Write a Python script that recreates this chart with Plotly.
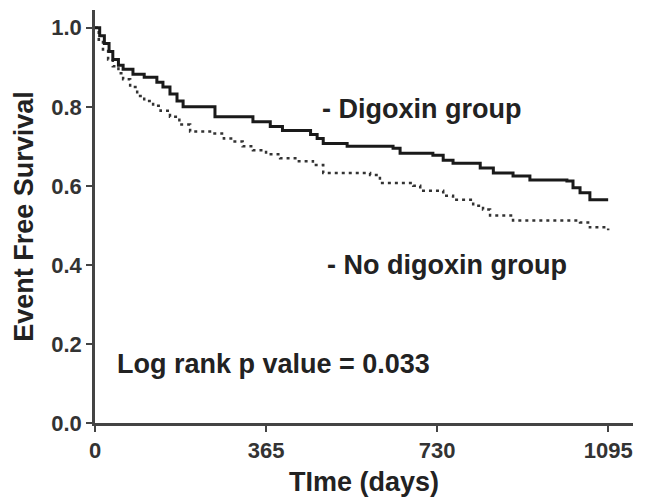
import plotly.graph_objects as go

# Digoxin group (solid step curve)
dig_days = [0, 10, 20, 30, 38, 50, 60, 81, 105, 132, 145, 160, 175, 188, 256, 337, 374, 400,
            460, 474, 487, 538, 636, 651, 721, 743, 764, 822, 850, 892, 928, 1007, 1020, 1035, 1056, 1095]
dig_surv = [1.0, 0.98, 0.96, 0.94, 0.92, 0.905, 0.895, 0.8825, 0.875, 0.8625, 0.85, 0.8325, 0.815, 0.80,
            0.775, 0.7625, 0.75, 0.74, 0.73, 0.72, 0.7075, 0.70, 0.695, 0.6825, 0.6775, 0.665, 0.6575,
            0.645, 0.6325, 0.625, 0.615, 0.6125, 0.595, 0.5825, 0.565, 0.565]

# No digoxin group (dotted step curve)
nodig_days = [0, 8, 17, 28, 38, 50, 60, 75, 90, 105, 124, 140, 160, 180, 203, 252, 275, 295, 315, 337,
              365, 395, 431, 465, 487, 587, 608, 679, 694, 743, 764, 807, 828, 843, 892, 1035, 1056, 1095]
nodig_surv = [1.0, 0.97, 0.945, 0.92, 0.9025, 0.885, 0.87, 0.85, 0.8275, 0.815, 0.8025, 0.79, 0.775,
              0.755, 0.7375, 0.7325, 0.72, 0.7125, 0.70, 0.69, 0.68, 0.67, 0.6625, 0.6525, 0.6325,
              0.6275, 0.6075, 0.60, 0.5875, 0.575, 0.565, 0.55, 0.54, 0.525, 0.5125, 0.5075, 0.495, 0.4875]

x_ticks = [0, 365, 730, 1095]
y_ticks = [0.0, 0.2, 0.4, 0.6, 0.8, 1.0]
y_tick_text = ["0.0", "0.2", "0.4", "0.6", "0.8", "1.0"]

FONT = "Liberation Sans, Arial, sans-serif"

fig = go.Figure()
fig.add_trace(go.Scatter(x=nodig_days, y=nodig_surv, mode="lines", line_shape="hv",
                         line=dict(color="#333333", width=2.5, dash="3px,4px"),
                         name="No digoxin group", showlegend=False))
fig.add_trace(go.Scatter(x=dig_days, y=dig_surv, mode="lines", line_shape="hv",
                         line=dict(color="#1a1a1a", width=3),
                         name="Digoxin group", showlegend=False))

ann_font = dict(family=FONT, size=27, color="#222222", weight="bold")
fig.add_annotation(x=480, y=0.795, text="- Digoxin group", showarrow=False,
                   xanchor="left", yanchor="middle", font=ann_font)
fig.add_annotation(x=491, y=0.40, text="- No digoxin group", showarrow=False,
                   xanchor="left", yanchor="middle", font=ann_font)
fig.add_annotation(x=43, y=0.15, text="Log rank p value = 0.033", showarrow=False,
                   xanchor="left", yanchor="middle", font=ann_font)

fig.update_layout(
    width=646, height=502,
    margin=dict(l=95, r=13, t=10, b=74),
    paper_bgcolor="white", plot_bgcolor="white",
    font=dict(family=FONT, color="#333333"),
)
fig.update_xaxes(range=[0, 1148], tickvals=x_ticks, ticktext=[str(v) for v in x_ticks],
                 showgrid=False, zeroline=False, showline=True, linecolor="#444444", linewidth=2.5,
                 ticks="outside", ticklen=6, tickwidth=2, tickcolor="#444444",
                 tickfont=dict(family=FONT, size=22, color="#333333", weight="bold"),
                 title=dict(text="TIme (days)", standoff=10,
                            font=dict(family=FONT, size=27, color="#222222", weight="bold")))
fig.update_yaxes(range=[0, 1.045], tickvals=y_ticks, ticktext=y_tick_text,
                 showgrid=False, zeroline=False, showline=True, linecolor="#444444", linewidth=2.5,
                 ticks="outside", ticklen=6, tickwidth=2, tickcolor="#444444",
                 tickfont=dict(family=FONT, size=22, color="#333333", weight="bold"),
                 title=dict(text="Event Free Survival", standoff=10,
                            font=dict(family=FONT, size=27, color="#222222", weight="bold")))

fig.write_html("out.html")
